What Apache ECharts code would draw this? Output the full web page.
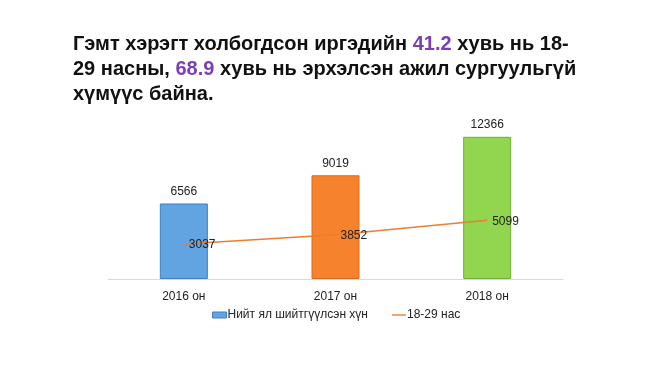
<!DOCTYPE html>
<html><head><meta charset="utf-8">
<script src="https://cdn.jsdelivr.net/npm/echarts@6/dist/echarts.min.js"></script>
<style>html,body{margin:0;padding:0;background:#fff}#c{width:650px;height:365px}</style>
</head><body><div id="c"></div>
<script>
const categories = ['2016 он', '2017 он', '2018 он'];
const totalConvicted = [6566, 9019, 12366];
const age18to29 = [3037, 3852, 5099];
const seriesNames = ['Нийт ял шийтгүүлсэн хүн', '18-29 нас'];
const barColors = ['#62A3E2', '#F7822E', '#92D650'];
const barBorders = ['#3F7FBF', '#D86A1E', '#6FAE35'];

const chart = echarts.init(document.getElementById('c'));
chart.setOption({
  animation: false,
  backgroundColor: '#fff',
  title: {
    left: 68, top: 27,
    text: '{a|Гэмт хэрэгт холбогдсон иргэдийн }{p|41.2}{a| хувь нь 18-}\n{a|29 насны, }{p|68.9}{a| хувь нь эрхэлсэн ажил сургуульгүй}\n{a|хүмүүс байна.}',
    textStyle: {
      rich: {
        a: {fontFamily: 'Liberation Sans, Arial', fontWeight: 'bold', fontSize: 20, color: '#111', lineHeight: 25},
        p: {fontFamily: 'Liberation Sans, Arial', fontWeight: 'bold', fontSize: 20, color: '#7B3FB5', lineHeight: 25}
      }
    }
  },
  legend: {
    bottom: 39, left: 207, itemGap: 24, itemWidth: 14, itemHeight: 6,
    textStyle: {fontFamily: 'Liberation Sans, Arial', fontSize: 12, color: '#222', padding: [0, 0, 0, -4]},
    data: [
      {name: seriesNames[0], icon: 'rect', itemStyle: {color: '#62A3E2', borderColor: '#3F7FBF', borderWidth: 1}},
      {name: seriesNames[1], icon: 'path://M0,0 H20 V2 H0 Z', itemStyle: {color: '#ED7D31', opacity: 1, borderWidth: 0}}
    ]
  },
  grid: {left: 108, right: 87, top: 118, bottom: 86},
  xAxis: {
    type: 'category', data: categories,
    axisLine: {lineStyle: {color: '#D9D9D9'}},
    axisTick: {show: false},
    axisLabel: {fontFamily: 'Liberation Sans, Arial', fontSize: 12, color: '#222', margin: 12}
  },
  yAxis: {type: 'value', min: 0, max: 14000, show: false, splitLine: {show: false}},
  series: [
    {
      name: seriesNames[0], type: 'bar', barWidth: 48,
      data: totalConvicted.map((v, i) => ({value: v, itemStyle: {color: barColors[i], borderColor: barBorders[i], borderWidth: 1}})),
      itemStyle: {color: '#62A3E2'},
      label: {show: true, position: 'top', distance: 6, fontFamily: 'Liberation Sans, Arial', fontSize: 12, color: '#222'}
    },
    {
      name: seriesNames[1], type: 'line', data: age18to29,
      symbol: 'circle', symbolSize: 0.01, showSymbol: true,
      lineStyle: {color: '#ED7D31', width: 1.5}, itemStyle: {color: '#ED7D31', borderWidth: 0},
      label: {show: true, position: 'right', distance: 5, offset: [0, 1], fontFamily: 'Liberation Sans, Arial', fontSize: 12, color: '#222'}
    }
  ]
});
</script></body></html>
